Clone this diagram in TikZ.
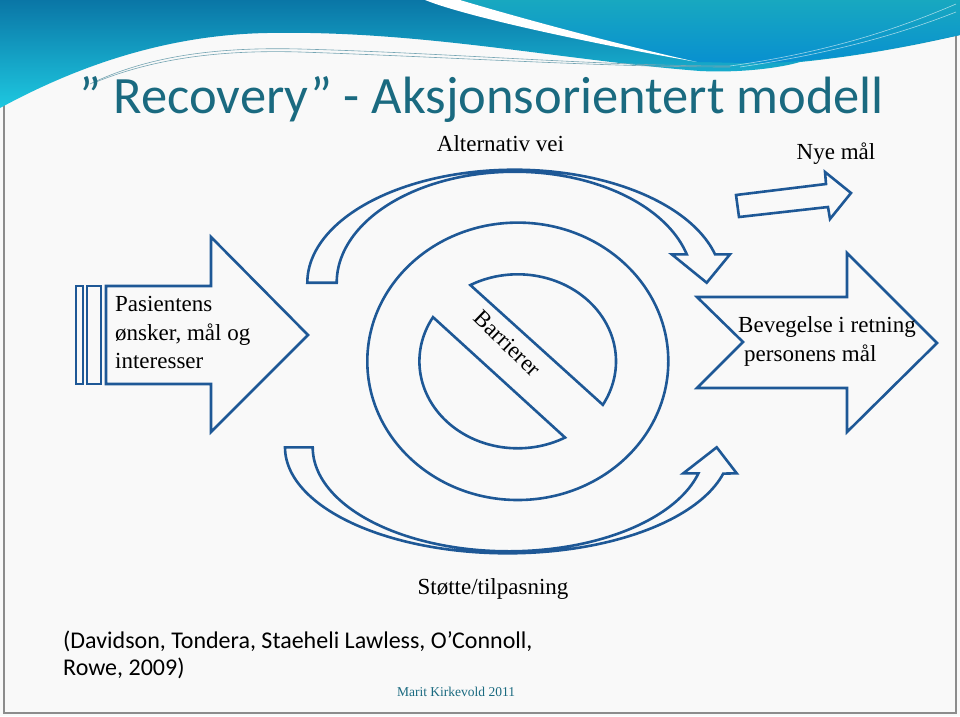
\documentclass[tikz,border=0pt]{standalone}
\usepackage{fontspec}
\setmainfont{Liberation Serif}
\newfontfamily\calibri{Carlito}
\definecolor{arrowblue}{RGB}{30,88,150}
\definecolor{titleteal}{RGB}{26,106,128}
\definecolor{bandtop}{RGB}{10,118,166}
\definecolor{bandbot}{RGB}{30,200,224}
\definecolor{rtop}{RGB}{24,168,192}
\definecolor{rbot}{RGB}{8,144,208}
\definecolor{paper}{RGB}{249,249,249}
\definecolor{framegray}{RGB}{140,140,140}
\begin{document}
\begin{tikzpicture}[x=1pt,y=-1pt,
  outl/.style={draw=arrowblue, line width=2.6pt, line join=miter},
  serif/.style={font=\fontsize{23}{27}\selectfont, text=black, inner sep=0pt},
]
\useasboundingbox (0,0) rectangle (960,716);
\fill[paper] (0,0) rectangle (960,716);
\draw[framegray, line width=1.2pt] (4,0) rectangle (956,713);
% banner
\shade[top color=bandtop, bottom color=bandbot] (0,0) -- (960,0) -- (960,35) .. controls (930,42) and (870,55) .. (800,62) .. controls (780,68) and (740,73) .. (700,71) .. controls (560,60) and (420,30) .. (267,33) .. controls (160,35) and (70,70) .. (0,108) -- cycle;
\shade[top color=rtop, bottom color=rbot] (460,0) -- (960,0) -- (960,35) .. controls (900,47) and (830,62) .. (760,63) .. controls (730,63) and (710,62) .. (697,62) .. controls (620,45) and (520,18) .. (460,0) -- cycle;
\fill[white] (425,0) .. controls (470,18) and (600,45) .. (697,62) .. controls (620,45) and (520,18) .. (460,0) -- cycle;
\draw[titleteal!60, line width=0.6pt] (90,84) .. controls (150,55) and (220,47) .. (300,49) .. controls (450,53) and (600,66) .. (730,66);
\draw[titleteal!60, line width=0.6pt] (96,82) .. controls (160,56) and (230,50) .. (300,52) .. controls (450,57) and (600,67) .. (730,67);
\draw[white, opacity=0.6, line width=0.6pt] (730,66) .. controls (830,52) and (900,28) .. (956,4);
\draw[white, opacity=0.6, line width=0.6pt] (740,67) .. controls (840,52) and (905,32) .. (956,12);
% title
\node[font=\calibri\fontsize{52.5}{60}\selectfont, text=titleteal, anchor=base, inner sep=0pt] (title) at (482,113) {” Recovery” - Aksjonsorientert modell};
% left arrow
\draw[outl] (76,286) rectangle (83,384);
\draw[outl] (87,286) rectangle (101,384);
\draw[outl] (106,286) -- (211,286) -- (211,237) -- (308,335) -- (211,432) -- (211,384) -- (106,384) -- cycle;
% right notched arrow
\draw[outl] (697,297) -- (847,297) -- (847,253) -- (937,343) -- (847,432) -- (847,388) -- (697,388) -- (743,342) -- cycle;
% small arrow
\draw[outl] (736,195) -- (826,184) -- (825,172) -- (851,193) -- (830,219) -- (828,207) -- (739,217) -- cycle;
% no-entry sign
\draw[outl] (517.8,361.3) ellipse [x radius=150.5, y radius=138.7];
\draw[outl] plot[domain=-118.8:30, samples=80] ({517.7+98.3*cos(\x)},{361.3+87*sin(\x)}) -- cycle;
\draw[outl] plot[domain=61.2:210.5, samples=80] ({517.7+98.3*cos(\x)},{361.3+87*sin(\x)}) -- cycle;
% top curved arrow
\draw[outl] (307.3,282.7) -- plot[domain=-180:-14.56, samples=100] ({514.5+207.2*cos(\x)},{282.7+113*sin(\x)}) -- (730,254.3) -- (706.7,282.7) -- (671.7,254.3) -- plot[domain=-14.83:-180, samples=100] ({514.7+178*cos(\x)},{282.7+111*sin(\x)}) -- cycle;
% bottom curved arrow
\draw[outl] (285,447.3) -- plot[domain=180:14.37, samples=100] ({507.6+222.6*cos(\x)},{447.3+106*sin(\x)}) -- (736.7,473.3) -- (716.7,447.3) -- (683.3,473.3) -- plot[domain=14.48:180, samples=100] ({508.7+196*cos(\x)},{447.3+104*sin(\x)}) -- cycle;
% texts
\node[serif, anchor=base] (alt) at (500.5,151) {Alternativ vei};
\node[serif, anchor=base] (nye) at (836,159) {Nye mål};
\node[serif, anchor=base west] (pas1) at (115,311.7) {Pasientens};
\node[serif, anchor=base west] (pas2) at (115,340) {ønsker, mål og};
\node[serif, anchor=base west] (pas3) at (115,368.3) {interesser};
\node[serif, anchor=base west] (bev1) at (738,332.7) {Bevegelse i retning};
\node[serif, anchor=base west] (bev2) at (744,361) {personens mål};
\node[serif, rotate=-44] (bar) at (507.5,343.3) {Barrierer};
\node[serif, anchor=base] (stotte) at (493,594) {Støtte/tilpasning};
\node[font=\calibri\fontsize{24}{27}\selectfont, anchor=base west, inner sep=0pt] (cit1) at (63,648) {(Davidson, Tondera, Staeheli Lawless, O’Connoll,};
\node[font=\calibri\fontsize{24}{27}\selectfont, anchor=base west, inner sep=0pt] (cit2) at (63,675) {Rowe, 2009)};
\node[font=\fontsize{13.5}{16}\selectfont, text=titleteal, anchor=base, inner sep=0pt] (marit) at (456,696) {Marit Kirkevold 2011};
\end{tikzpicture}
\end{document}
